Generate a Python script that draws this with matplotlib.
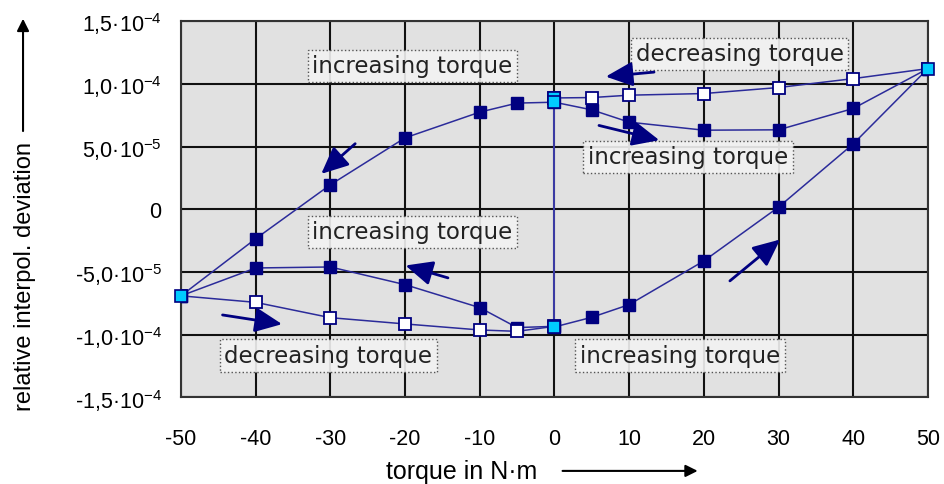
import matplotlib
matplotlib.use("Agg")
import matplotlib.pyplot as plt
from matplotlib.patches import FancyArrowPatch

plt.rcParams['font.family'] = ['Liberation Sans Narrow', 'Liberation Sans', 'DejaVu Sans']
plt.rcParams['mathtext.default'] = 'regular'
plt.rcParams['axes.unicode_minus'] = False

# data (y values in units of 1e-4)
x_inc_upper = [-50, -40, -30, -20, -10, -5, 0, 5, 10, 20, 30, 40, 50]
y_inc_upper = [-0.69, -0.235, 0.195, 0.569, 0.774, 0.846, 0.853, 0.792, 0.694, 0.63, 0.633, 0.803, 1.121]

x_dec_upper = [50, 40, 30, 20, 10, 5, 0]
y_dec_upper = [1.121, 1.041, 0.97, 0.922, 0.909, 0.89, 0.887]

x_jump = [0, 0]
y_jump = [0.887, -0.938]

x_inc_lower = [0, 5, 10, 20, 30, 40, 50]
y_inc_lower = [-0.938, -0.861, -0.76, -0.412, 0.017, 0.521, 1.121]

x_inc_mid = [-50, -40, -30, -20, -10, -5, 0]
y_inc_mid = [-0.69, -0.468, -0.46, -0.601, -0.784, -0.943, -0.933]

x_dec_lower = [0, -5, -10, -20, -30, -40, -50]
y_dec_lower = [-0.933, -0.973, -0.962, -0.914, -0.864, -0.742, -0.69]

x_turn = [-50, 0, 0, 0, 50]
y_turn = [-0.69, 0.887, 0.853, -0.938, 1.121]

xticks = [-50, -40, -30, -20, -10, 0, 10, 20, 30, 40, 50]
yticks = [-1.5, -1.0, -0.5, 0, 0.5, 1.0, 1.5]
ylabels = ['-1,5·10$^{-4}$', '-1,0·10$^{-4}$', '-5,0·10$^{-5}$', '0',
           '5,0·10$^{-5}$', '1,0·10$^{-4}$', '1,5·10$^{-4}$']

# annotation texts (label, x, y) and arrows (x0, y0, x1, y1)
notes = [('increasing torque', -19.0, 1.143),
         ('decreasing torque', 24.8, 1.238),
         ('increasing torque', 17.9, 0.418),
         ('increasing torque', -19.0, -0.179),
         ('decreasing torque', -30.3, -1.166),
         ('increasing torque', 16.8, -1.166)]
arrows = [(-26.4, 0.537, -31.5, 0.267),
          (13.7, 1.095, 6.5, 1.055),
          (5.6, 0.673, 14.4, 0.545),
          (-13.9, -0.553, -20.3, -0.442),
          (-44.8, -0.839, -36.1, -0.919),
          (23.2, -0.585, 30.5, -0.227)]

navy = '#000080'
line_c = '#2b2b9a'

fig = plt.figure(figsize=(9.44, 4.85), dpi=100)
ax = fig.add_axes([0.1917, 0.1784, 0.7913, 0.7762])
ax.set_facecolor('#e1e1e1')

ax.plot(x_jump, y_jump, color='#3c3ca8', lw=1.4, zorder=3)
ms = 8.5
ax.plot(x_inc_upper, y_inc_upper, color=line_c, lw=1.1, marker='s', ms=ms,
        mfc=navy, mec=navy, zorder=4)
ax.plot(x_inc_mid, y_inc_mid, color=line_c, lw=1.1, marker='s', ms=ms,
        mfc=navy, mec=navy, zorder=4)
ax.plot(x_dec_upper, y_dec_upper, color=line_c, lw=1.1, marker='s', ms=ms,
        mfc='white', mec=navy, mew=1.3, zorder=4)
ax.plot(x_dec_lower, y_dec_lower, color=line_c, lw=1.1, marker='s', ms=ms,
        mfc='white', mec=navy, mew=1.3, zorder=4)
ax.plot(x_inc_lower, y_inc_lower, color=line_c, lw=1.1, marker='s', ms=ms,
        mfc=navy, mec=navy, zorder=4)
ax.plot(x_turn, y_turn, ls='none', marker='s', ms=ms, mfc='#00ccff', mec=navy,
        mew=1.2, zorder=5, clip_on=False)

for label, tx, ty in notes:
    ax.text(tx, ty, label, fontsize=16.5, family='DejaVu Sans', color='#222222',
            ha='center', va='center', zorder=3,
            bbox=dict(boxstyle='square,pad=0.2', fc='#f2f2f2', ec='#444444',
                      ls=':', lw=1, alpha=0.9))

for x0, y0, x1, y1 in arrows:
    ax.add_patch(FancyArrowPatch((x0, y0), (x1, y1),
                                 arrowstyle='-|>,head_length=0.55,head_width=0.25',
                                 mutation_scale=30, lw=2, color=navy, zorder=6))

ax.set_xlim(-50, 50)
ax.set_ylim(-1.5, 1.5)
ax.set_xticks(xticks)
ax.set_yticks(yticks)
ax.set_yticklabels(ylabels)
ax.grid(True, color='#111111', lw=1.5)
ax.set_axisbelow(True)
ax.tick_params(length=0, labelsize=15.5)
ax.tick_params(axis='x', pad=22)
ax.tick_params(axis='y', pad=14)
for s in ax.spines.values():
    s.set_color('#333333')
    s.set_linewidth(1.5)

# axis labels with arrows
fig.text(0.0265, 0.429, 'relative interpol. deviation', rotation=90,
         ha='center', va='center', fontsize=17, family='Liberation Sans')
fig.add_artist(FancyArrowPatch((0.0244, 0.722), (0.0244, 0.965),
                               transform=fig.transFigure, arrowstyle='-|>',
                               mutation_scale=18, lw=1.5, color='black'))
fig.text(0.489, 0.027, 'torque in N·m', ha='center', va='center', fontsize=18)
fig.add_artist(FancyArrowPatch((0.593, 0.027), (0.742, 0.027),
                               transform=fig.transFigure, arrowstyle='-|>',
                               mutation_scale=18, lw=1.5, color='black'))

fig.savefig('out.png', dpi=100)
